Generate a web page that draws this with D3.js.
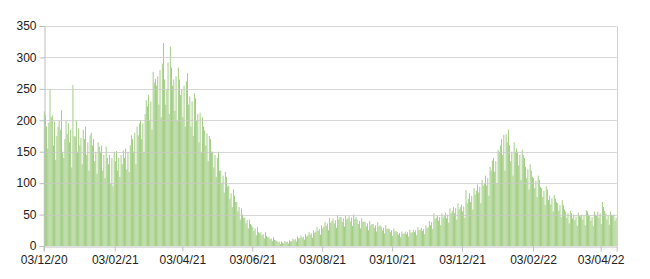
<!DOCTYPE html>
<html>
<head>
<meta charset="utf-8">
<script src="https://cdn.jsdelivr.net/npm/d3@7"></script>
<style>
  html, body { margin: 0; padding: 0; background: #fff; }
  svg { display: block; }
  text { font-family: "Liberation Sans", Arial, Helvetica, sans-serif; }
</style>
</head>
<body>
<svg id="chart" width="650" height="279"></svg>
<script>
// ---- data ----
const startDate = "2020-12-03";
const dailyValues = [
  214,208,190,155,196,250,205,
  208,160,198,137,175,190,200,
  185,216,150,140,170,200,178,
  195,165,185,125,256,175,174,
  200,150,187,160,172,130,185,
  170,190,145,165,120,176,180,
  160,170,135,150,115,165,158,
  150,160,120,145,108,158,140,
  130,145,100,140,95,150,135,
  151,120,140,110,145,130,152,
  140,155,122,150,118,160,176,
  170,150,180,130,190,176,195,
  200,170,195,150,210,232,222,
  240,200,230,185,277,260,266,
  255,270,225,280,205,290,323,
  265,225,250,292,210,317,284,
  255,265,215,270,200,284,265,
  240,250,205,255,190,262,275,
  225,238,190,230,175,243,235,
  200,210,165,212,150,205,190,
  184,160,179,135,175,170,150,
  150,125,145,110,140,150,120,
  120,100,112,85,118,110,95,
  96,75,84,62,90,80,70,
  70,55,62,42,60,50,45,
  45,36,41,28,42,35,33,
  30,24,28,17,30,22,20,
  22,17,19,12,22,16,14,
  14,11,12,8,14,10,9,
  8,6,7,3,7,5,4,
  8,6,7,4,9,7,8,
  12,9,11,7,15,12,13,
  17,13,15,10,19,15,17,
  22,18,20,13,25,21,23,
  30,24,27,18,33,28,31,
  38,32,36,25,45,37,40,
  44,36,41,29,49,42,46,
  46,38,44,31,48,42,44,
  47,39,45,32,50,43,46,
  42,35,40,28,44,38,39,
  38,31,36,25,40,33,35,
  35,29,33,23,38,31,33,
  31,25,29,20,33,27,28,
  27,22,25,16,28,23,24,
  22,18,21,14,23,19,20,
  23,19,22,15,26,21,22,
  26,22,25,17,30,25,26,
  29,24,27,19,33,28,30,
  40,33,38,27,52,43,45,
  48,40,46,33,52,45,48,
  53,44,50,37,60,52,56,
  62,52,60,42,68,58,62,
  66,55,63,45,89,68,75,
  84,70,80,58,92,82,88,
  98,85,94,68,105,96,99,
  112,96,108,80,126,120,136,
  140,118,135,100,153,150,160,
  170,145,177,120,178,165,185,
  160,135,150,112,165,150,155,
  150,128,145,105,153,145,140,
  126,108,122,90,130,120,110,
  108,92,104,78,112,105,94,
  92,78,88,65,95,90,73,
  80,66,76,55,81,75,70,
  68,56,65,46,73,65,58,
  55,45,52,36,56,52,44,
  50,41,47,32,53,48,47,
  50,42,48,33,57,55,50,
  48,40,46,32,55,50,48,
  55,45,52,35,70,62,56,
  52,42,48,34,55,50,49,
  50,40,45
];
const yTicks = [0, 50, 100, 150, 200, 250, 300, 350];
const xTickDates = ["2020-12-03","2021-02-03","2021-04-03","2021-06-03","2021-08-03","2021-10-03","2021-12-03","2022-02-03","2022-04-03"];

// ---- build ----
(function () {
  const parse = d3.utcParse("%Y-%m-%d");
  const t0 = parse(startDate);
  const data = dailyValues.map((v, i) => ({ date: d3.utcDay.offset(t0, i), value: v }));
  const tEnd = d3.utcDay.offset(t0, dailyValues.length);

  const pL = 43.7, pR = 616.7, pT = 26, pB = 246;
  const svg = d3.select("#chart");

  const x = d3.scaleUtc().domain([t0, tEnd]).range([pL, pR]);
  const y = d3.scaleLinear().domain([0, 350]).range([pB, pT]);

  // bars
  const dayW = x(d3.utcDay.offset(t0, 1)) - x(t0);
  svg.append("g")
    .selectAll("rect")
    .data(data)
    .join("rect")
    .attr("x", d => x(d.date) + dayW * 0.1)
    .attr("width", dayW * 0.8)
    .attr("y", d => y(d.value))
    .attr("height", d => y(0) - y(d.value))
    .attr("fill", "#9cca7c");

  // gridlines (over bars)
  svg.append("g")
    .selectAll("line")
    .data(yTicks.filter(t => t > 0))
    .join("line")
    .attr("x1", pL).attr("x2", pR)
    .attr("y1", d => Math.round(y(d)) + 0.5).attr("y2", d => Math.round(y(d)) + 0.5)
    .attr("stroke", "#c8c8c8")
    .attr("stroke-opacity", 0.75);

  // right border
  svg.append("line")
    .attr("x1", Math.round(pR) + 0.5).attr("x2", Math.round(pR) + 0.5)
    .attr("y1", Math.round(pT) + 0.5).attr("y2", Math.round(pB) + 0.5)
    .attr("stroke", "#d0d0d0");

  // y axis
  const yAxis = svg.append("g")
    .attr("transform", `translate(${Math.round(pL) + 0.5},0)`)
    .call(d3.axisLeft(y).tickValues(yTicks).tickSize(5).tickPadding(3).tickFormat(d3.format("d")));
  yAxis.select(".domain").attr("stroke", "#bdbdbd");
  yAxis.selectAll(".tick line").attr("stroke", "#bdbdbd");
  yAxis.selectAll("text").attr("fill", "#222").style("font-size", "12px");

  // x axis
  const xAxis = svg.append("g")
    .attr("transform", `translate(0,${Math.round(pB) + 0.5})`)
    .call(d3.axisBottom(x).tickValues(xTickDates.map(parse)).tickSize(5).tickPadding(4).tickFormat(d3.utcFormat("%d/%m/%y")));
  xAxis.select(".domain").attr("stroke", "#bdbdbd");
  xAxis.selectAll(".tick line").attr("stroke", "#bdbdbd");
  xAxis.selectAll("text").attr("fill", "#222").style("font-size", "12px");
})();
</script>
</body>
</html>
